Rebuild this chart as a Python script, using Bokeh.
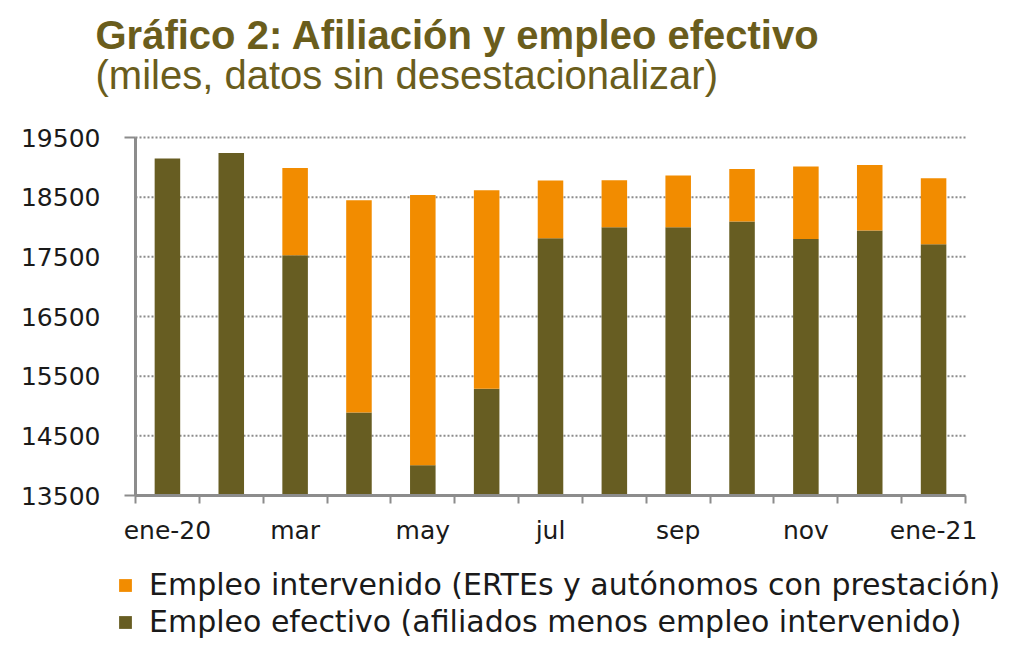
from bokeh.plotting import figure
from bokeh.models import (ColumnDataSource, FixedTicker, Range1d, Label, Legend, LegendItem)
from bokeh.embed import file_html
from bokeh.resources import INLINE

# ---- data (miles) ----
months = ["ene-20", "feb", "mar", "abr", "may", "jun", "jul", "ago", "sep", "oct", "nov", "dic", "ene-21"]
empleo_efectivo = [19148, 19242, 17526, 14892, 14008, 15290, 17811, 17995, 17995, 18091, 17800, 17940, 17710]
empleo_intervenido = [0, 0, 1464, 3556, 4529, 3326, 968, 789, 868, 882, 1214, 1101, 1107]
y_ticks = [13500, 14500, 15500, 16500, 17500, 18500, 19500]

title_text = "Gráfico 2: Afiliación y empleo efectivo"
subtitle_text = "(miles, datos sin desestacionalizar)"
legend_intervenido = "Empleo intervenido (ERTEs y autónomos con prestación)"
legend_efectivo = "Empleo efectivo (afiliados menos empleo intervenido)"

# ---- styling / layout ----
OLIVE = "#675D22"
ORANGE = "#F28C00"
TITLE_COLOR = "#6A5D1C"
AXIS_COLOR = "#8C8C8C"
W, H = 1024, 650
AX_LEFT, AX_RIGHT, AX_TOP, AX_BOTTOM = 135, 965, 137, 495   # axis box in pixels

n = len(months)
y_min, y_max = y_ticks[0], y_ticks[-1]
cat_px = (AX_RIGHT - AX_LEFT) / n
unit_px = (AX_BOTTOM - AX_TOP) / (y_max - y_min)
x_range = Range1d(-0.5 - AX_LEFT / cat_px, n - 0.5 + (W - AX_RIGHT) / cat_px)
y_range = Range1d(y_min - (H - AX_BOTTOM) / unit_px, y_max + AX_TOP / unit_px)

x_pos = list(range(n))
total = [e + i for e, i in zip(empleo_efectivo, empleo_intervenido)]
source = ColumnDataSource(dict(x=x_pos, base=[y_min] * n, efectivo=empleo_efectivo, total=total))

p = figure(width=W, height=H, x_range=x_range, y_range=y_range,
           output_backend="svg", toolbar_location=None,
           min_border_left=0, min_border_right=0, min_border_top=0, min_border_bottom=0)
p.outline_line_color = None
p.background_fill_color = "white"
p.border_fill_color = "white"
p.xgrid.visible = False
p.ygrid.visible = False

# dotted horizontal grid across the category span
p.segment(x0=[-0.5] * len(y_ticks), x1=[n - 0.5] * len(y_ticks), y0=y_ticks, y1=y_ticks,
          line_color="#8C8C8C", line_width=2, line_dash="2 2")

r_eff = p.vbar(x="x", bottom="base", top="efectivo", width=0.4, color=OLIVE, line_color=None, source=source)
r_int = p.vbar(x="x", bottom="efectivo", top="total", width=0.4, color=ORANGE, line_color=None, source=source)

# x axis: labels every other month, ticks at category boundaries
xa = p.xaxis[0]
xa.fixed_location = y_min
xa.bounds = (-0.5, n - 0.5)
xa.ticker = FixedTicker(ticks=x_pos[::2], minor_ticks=[i - 0.5 for i in range(n + 1)])
xa.major_label_overrides = {i: months[i] for i in x_pos[::2]}
xa.major_tick_line_color = None
xa.major_tick_out = 0
xa.major_tick_in = 0
xa.minor_tick_out = 8
xa.minor_tick_in = 0
xa.minor_tick_line_color = AXIS_COLOR
xa.minor_tick_line_width = 2
xa.axis_line_color = AXIS_COLOR
xa.axis_line_width = 3
xa.major_label_text_font = "DejaVu Sans"
xa.major_label_text_font_size = "25px"
xa.major_label_text_color = "#1a1a1a"
xa.major_label_standoff = 12

# y axis
ya = p.yaxis[0]
ya.fixed_location = -0.5
ya.bounds = (y_min, y_max)
ya.ticker = FixedTicker(ticks=y_ticks, minor_ticks=[y_min, y_max])
ya.major_tick_line_color = None
ya.major_tick_out = 0
ya.major_tick_in = 0
ya.minor_tick_out = 11
ya.minor_tick_in = 0
ya.minor_tick_line_color = AXIS_COLOR
ya.minor_tick_line_width = 2
ya.axis_line_color = AXIS_COLOR
ya.axis_line_width = 3
ya.major_label_text_font = "DejaVu Sans"
ya.major_label_text_font_size = "25px"
ya.major_label_text_color = "#1a1a1a"
ya.major_label_standoff = 24

# titles
p.add_layout(Label(x=95, y=H - 34, x_units="screen", y_units="screen", text=title_text,
                   text_font="Liberation Sans", text_font_style="bold", text_font_size="40px",
                   text_color=TITLE_COLOR, text_baseline="alphabetic", text_align="left"))
p.add_layout(Label(x=95, y=H - 74, x_units="screen", y_units="screen", text=subtitle_text,
                   text_font="Liberation Sans", text_font_size="40px",
                   text_color=TITLE_COLOR, text_baseline="alphabetic", text_align="left"))

legend = Legend(items=[LegendItem(label=legend_intervenido, renderers=[r_int]),
                       LegendItem(label=legend_efectivo, renderers=[r_eff])],
                location=(117, H - 569 - 70), orientation="vertical",
                label_text_font="DejaVu Sans", label_text_font_size="30px",
                label_text_color="#1a1a1a",
                glyph_width=16, glyph_height=16, label_standoff=16, label_height=34,
                spacing=2, padding=0, margin=0,
                border_line_color=None, background_fill_alpha=0)
p.add_layout(legend)

open("out.html", "w").write(file_html(p, INLINE))
